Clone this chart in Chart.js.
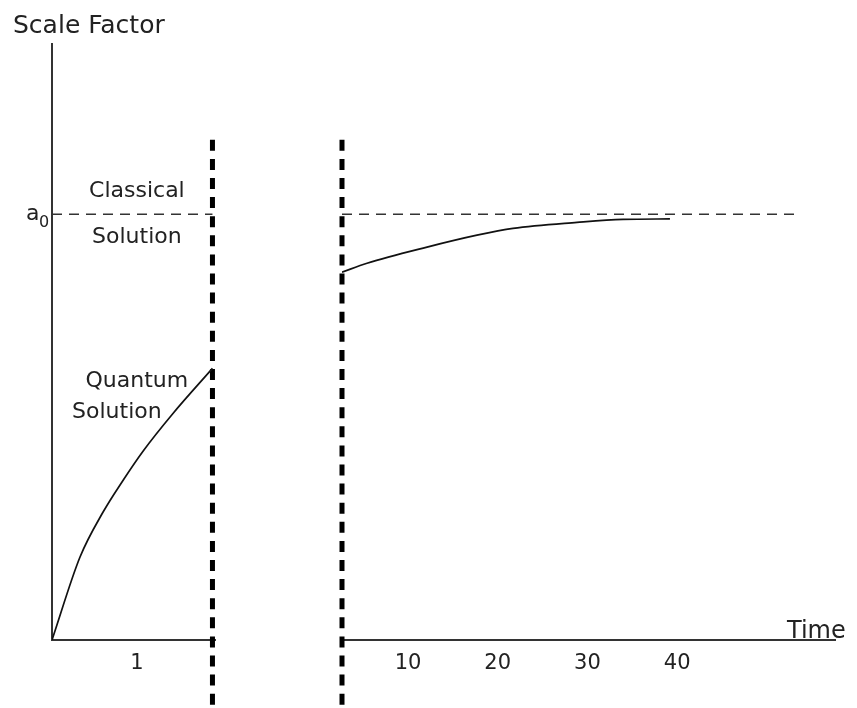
<!DOCTYPE html>
<html>
<head>
<meta charset="utf-8">
<script src="https://cdn.jsdelivr.net/npm/chart.js@4.4.1/dist/chart.umd.min.js"></script>
<style>
    html, body { margin: 0; padding: 0; background: #fff; width: 857px; height: 708px; overflow: hidden; }
    .panel { position: absolute; top: 0; height: 708px; }
    #leftBox { left: 0; width: 260px; }
    #rightBox { left: 260px; width: 597px; }
</style>
</head>
<body>
<div class="panel" id="leftBox"><canvas id="leftChart" width="260" height="708"></canvas></div>
<div class="panel" id="rightBox"><canvas id="rightChart" width="597" height="708"></canvas></div>
<script>
// quantum era (left panel)
const quantumTime = [0, 0.33, 0.6, 0.84, 1.07, 1.42, 1.89];
const quantumScale = [0, 0.195, 0.3, 0.376, 0.443, 0.531, 0.638];
// classical era (right panel)
const classicalTime = [2.64, 5.43, 12.12, 17.69, 21.7, 28.84, 33.97, 39.2];
const classicalScale = [0.864, 0.885, 0.923, 0.951, 0.967, 0.981, 0.988, 0.989];
const leftTicks = [1];
const rightTicks = [10, 20, 30, 40];
const a0 = 1;
const quantumEnd = 1.89;
const classicalStart = 2.64;
const a0LineEnd = 53.4;
const wallTop = 1.175;
const wallBottom = -0.155;

const FONT = '"DejaVu Sans", sans-serif';
const INK = '#222';

const pts = (xs, ys) => xs.map((x, i) => ({ x: x, y: ys[i] }));

function xAxis(min, max, ticks) {
    return {
        type: 'linear',
        min: min,
        max: max,
        afterFit: (s) => { s.height = 68; },
        afterBuildTicks: (s) => { s.ticks = ticks.map(v => ({ value: v })); },
        grid: { display: false, drawTicks: false },
        border: { display: true, color: '#333', width: 2 },
        ticks: {
            padding: 11,
            color: INK,
            font: { family: FONT, size: 21 },
            callback: (v) => String(v),
        },
    };
}

function wall(x) {
    return {
        data: [{ x: x, y: wallTop }, { x: x, y: wallBottom }],
        borderColor: '#000',
        borderWidth: 5,
        borderDash: [11, 8.1],
        pointRadius: 0,
        clip: false,
    };
}

function a0Line(from, to) {
    return {
        data: [{ x: from, y: a0 }, { x: to, y: a0 }],
        borderColor: '#333',
        borderWidth: 1.5,
        borderDash: [10, 7],
        pointRadius: 0,
    };
}

function curve(xs, ys) {
    return {
        data: pts(xs, ys),
        borderColor: '#111',
        borderWidth: 1.7,
        pointRadius: 0,
        cubicInterpolationMode: 'monotone',
    };
}

const leftText = {
    id: 'leftText',
    afterDraw: (chart) => {
        const { ctx } = chart;
        const yA = chart.scales.y.getPixelForValue(a0);
        const xc = chart.scales.x.getPixelForValue(1);
        ctx.save();
        ctx.fillStyle = INK;
        ctx.textBaseline = 'alphabetic';
        ctx.textAlign = 'left';
        ctx.font = '25px ' + FONT;
        ctx.fillText('Scale Factor', 13, 33);
        ctx.font = '22px ' + FONT;
        ctx.fillText('a', 26, yA + 6);
        ctx.font = '16px ' + FONT;
        ctx.fillText('0', 39, yA + 13);
        ctx.textAlign = 'center';
        ctx.font = '22px ' + FONT;
        ctx.fillText('Classical', xc, yA - 17);
        ctx.fillText('Solution', xc, yA + 29);
        ctx.fillText('Quantum', xc, 387);
        ctx.fillText('Solution', xc - 20, 418);
        ctx.restore();
    }
};

const rightText = {
    id: 'rightText',
    afterDraw: (chart) => {
        const { ctx } = chart;
        ctx.save();
        ctx.fillStyle = INK;
        ctx.textBaseline = 'alphabetic';
        ctx.textAlign = 'left';
        ctx.font = '24px ' + FONT;
        ctx.fillText('Time', 527, 638);
        ctx.restore();
    }
};

const common = {
    responsive: false,
    animation: false,
    plugins: { legend: { display: false }, tooltip: { enabled: false } },
};

new Chart(document.getElementById('leftChart').getContext('2d'), {
    type: 'line',
    data: {
        datasets: [
            curve(quantumTime, quantumScale),
            a0Line(0, quantumEnd),
            wall(quantumEnd),
        ]
    },
    options: Object.assign({}, common, {
        layout: { padding: { top: 44, right: 45, bottom: 0, left: 0 } },
        scales: {
            x: xAxis(0, 1.92, leftTicks),
            y: {
                min: 0,
                max: 1.4,
                afterFit: (s) => { s.width = 52; },
                grid: { display: false, drawTicks: false },
                border: { display: true, color: '#333', width: 2 },
                ticks: { display: false },
            },
        },
    }),
    plugins: [leftText],
});

new Chart(document.getElementById('rightChart').getContext('2d'), {
    type: 'line',
    data: {
        datasets: [
            curve(classicalTime, classicalScale),
            a0Line(classicalStart, a0LineEnd),
            wall(classicalStart),
        ]
    },
    options: Object.assign({}, common, {
        layout: { padding: { top: 44, right: 22, bottom: 0, left: 82 } },
        scales: {
            x: xAxis(classicalStart, 57.6, rightTicks),
            y: { display: false, min: 0, max: 1.4 },
        },
    }),
    plugins: [rightText],
});
</script>
</body>
</html>
